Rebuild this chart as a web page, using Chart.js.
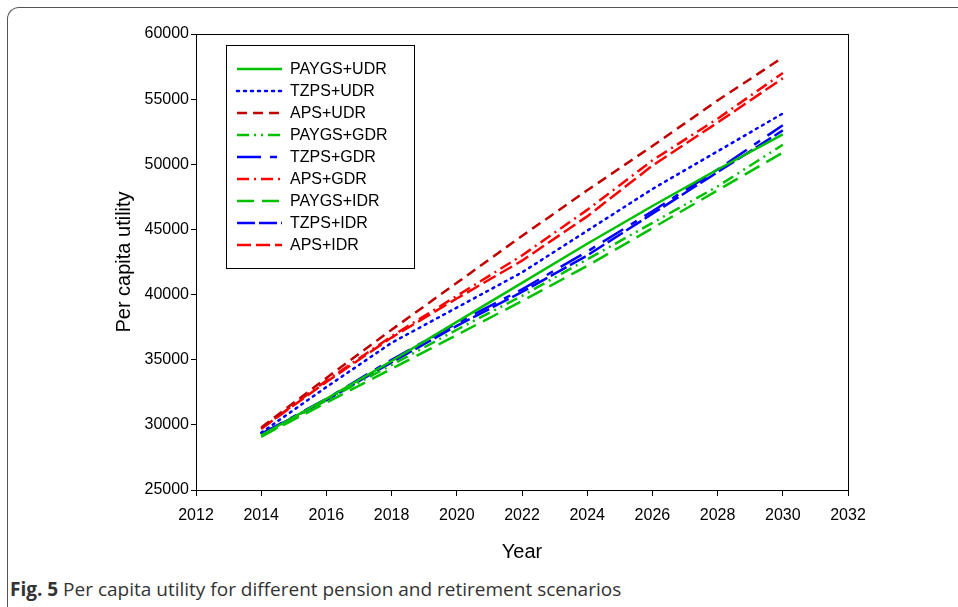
<!DOCTYPE html>
<html>
<head>
<meta charset="utf-8">
<script src="https://cdn.jsdelivr.net/npm/chart.js@4"></script>
<style>
  html, body { margin: 0; padding: 0; background: #fff; }
  body { width: 958px; height: 607px; position: relative; overflow: hidden; }
  #frame {
    position: absolute; left: 7px; top: 7px; width: 1000px; height: 640px;
    border-left: 1.5px solid #555; border-top: 1.5px solid #555;
    border-top-left-radius: 12px;
  }
  #wrap { position: absolute; left: 0; top: 0; width: 958px; height: 575px; }
  #caption {
    position: absolute; left: 10px; top: 576px;
    font-family: "Open Sans", sans-serif; font-size: 19px; color: #333;
    white-space: nowrap; letter-spacing: 0;
  }
  #caption b { color: #333; }
</style>
</head>
<body>
<div id="frame"></div>
<div id="wrap"><canvas id="utilChart"></canvas></div>
<div id="caption"><b>Fig. 5</b> Per capita utility for different pension and retirement scenarios</div>
<script>
const years = [2014, 2016, 2018, 2020, 2022, 2024, 2026, 2028, 2030];
const xTicks = [2012, 2014, 2016, 2018, 2020, 2022, 2024, 2026, 2028, 2030, 2032];
const yTicks = [25000, 30000, 35000, 40000, 45000, 50000, 55000, 60000];

const seriesNames = [
  "PAYGS+UDR", "TZPS+UDR", "APS+UDR",
  "PAYGS+GDR", "TZPS+GDR", "APS+GDR",
  "PAYGS+IDR", "TZPS+IDR", "APS+IDR"
];

const paygsUdr = [29200, 32000, 34900, 37900, 40900, 43900, 46800, 49600, 52300];
const tzpsUdr  = [29400, 32900, 36300, 39000, 41700, 44900, 48100, 51000, 53900];
const apsUdr   = [29800, 33600, 37300, 40900, 44500, 48000, 51400, 54900, 58200];
const paygsGdr = [29100, 31900, 34600, 37300, 39900, 42700, 45500, 48300, 51500];
const tzpsGdr  = [29300, 32000, 35000, 37800, 40400, 43300, 46400, 49600, 53000];
const apsGdr   = [29700, 33400, 36800, 39900, 43000, 46500, 50300, 53500, 57000];
const paygsIdr = [29100, 31700, 34300, 36900, 39500, 42200, 45100, 48000, 50900];
const tzpsIdr  = [29300, 31900, 34800, 37600, 40200, 43000, 46200, 49400, 52600];
const apsIdr   = [29700, 33300, 36700, 39700, 42600, 46000, 49900, 53200, 56600];

const allSeries = [paygsUdr, tzpsUdr, apsUdr, paygsGdr, tzpsGdr, apsGdr, paygsIdr, tzpsIdr, apsIdr];
const colors = ["#00c000", "#0000ff", "#c00000", "#00c000", "#0000ff", "#ff0000", "#00c000", "#0000ff", "#ff0000"];
const dashes = [[], [2, 5], [10, 6], [12, 5, 2, 5, 2, 5], [24, 9, 7, 9], [12, 5, 2, 5], [17, 8], [18, 4], [14, 5]];

const datasets = allSeries.map((vals, i) => ({
  label: seriesNames[i],
  data: vals.map((v, j) => ({ x: years[j], y: v })),
  borderColor: colors[i],
  borderDash: dashes[i],
  borderWidth: 2.5,
  borderCapStyle: i === 1 ? "round" : "butt",
  pointRadius: 0,
  fill: false,
  tension: 0,
}));

// frame on top/right + legend box inside the plot
const framePlugin = {
  id: "framePlugin",
  afterDraw(chart) {
    const { ctx, chartArea: a } = chart;
    ctx.save();
    ctx.strokeStyle = "#000";
    ctx.lineWidth = 1;
    ctx.strokeRect(a.left + 0.5, a.top + 0.5, a.right - a.left, a.bottom - a.top);

    // legend
    const lx = 226, ly = 45, lw = 188, lh = 223;
    ctx.fillStyle = "#fff";
    ctx.fillRect(lx, ly, lw, lh);
    ctx.strokeRect(lx + 0.5, ly + 0.5, lw, lh);
    ctx.font = "16px 'Liberation Sans', Arial, sans-serif";
    ctx.textBaseline = "middle";
    chart.data.datasets.forEach((ds, i) => {
      const y = 69 + i * 22;
      ctx.beginPath();
      ctx.setLineDash(ds.borderDash);
      ctx.lineCap = ds.borderCapStyle;
      ctx.strokeStyle = ds.borderColor;
      ctx.lineWidth = 2.5;
      ctx.moveTo(237, y);
      ctx.lineTo(282, y);
      ctx.stroke();
      ctx.setLineDash([]);
      ctx.fillStyle = "#000";
      ctx.fillText(ds.label, 290, y + 1);
    });
    ctx.restore();
  },
};

const tickFont = { family: "'Liberation Sans', Arial, sans-serif", size: 16 };

new Chart(document.getElementById("utilChart"), {
  type: "line",
  data: { datasets },
  options: {
    responsive: true,
    maintainAspectRatio: false,
    animation: false,
    layout: { padding: { top: 34, right: 110, left: 0, bottom: 0 } },
    plugins: { legend: { display: false }, tooltip: { enabled: false } },
    scales: {
      x: {
        type: "linear",
        min: 2012,
        max: 2032,
        afterBuildTicks: (s) => { s.ticks = xTicks.map((v) => ({ value: v })); },
        afterFit: (s) => { s.height = 85; },
        ticks: { color: "#000", font: tickFont, padding: 10, callback: (v) => String(v), maxRotation: 0 },
        grid: { drawOnChartArea: false, drawTicks: true, tickLength: 6, color: "#000" },
        border: { display: true, color: "#000" },
        title: {
          display: true, text: "Year", color: "#000",
          font: { family: "'Liberation Sans', Arial, sans-serif", size: 20 },
          padding: { top: 0, bottom: 11 },
        },
      },
      y: {
        type: "linear",
        min: 25000,
        max: 60000,
        afterBuildTicks: (s) => { s.ticks = yTicks.map((v) => ({ value: v })); },
        afterFit: (s) => { s.width = 196; },
        ticks: { color: "#000", font: tickFont, padding: 2, callback: (v) => String(v) },
        grid: { drawOnChartArea: false, drawTicks: true, tickLength: 5, color: "#000" },
        border: { display: true, color: "#000" },
        title: {
          display: true, text: "Per capita utility", color: "#000",
          font: { family: "'Liberation Sans', Arial, sans-serif", size: 20 },
          padding: { top: 112, bottom: 0 },
        },
      },
    },
  },
  plugins: [framePlugin],
});
</script>
</body>
</html>
